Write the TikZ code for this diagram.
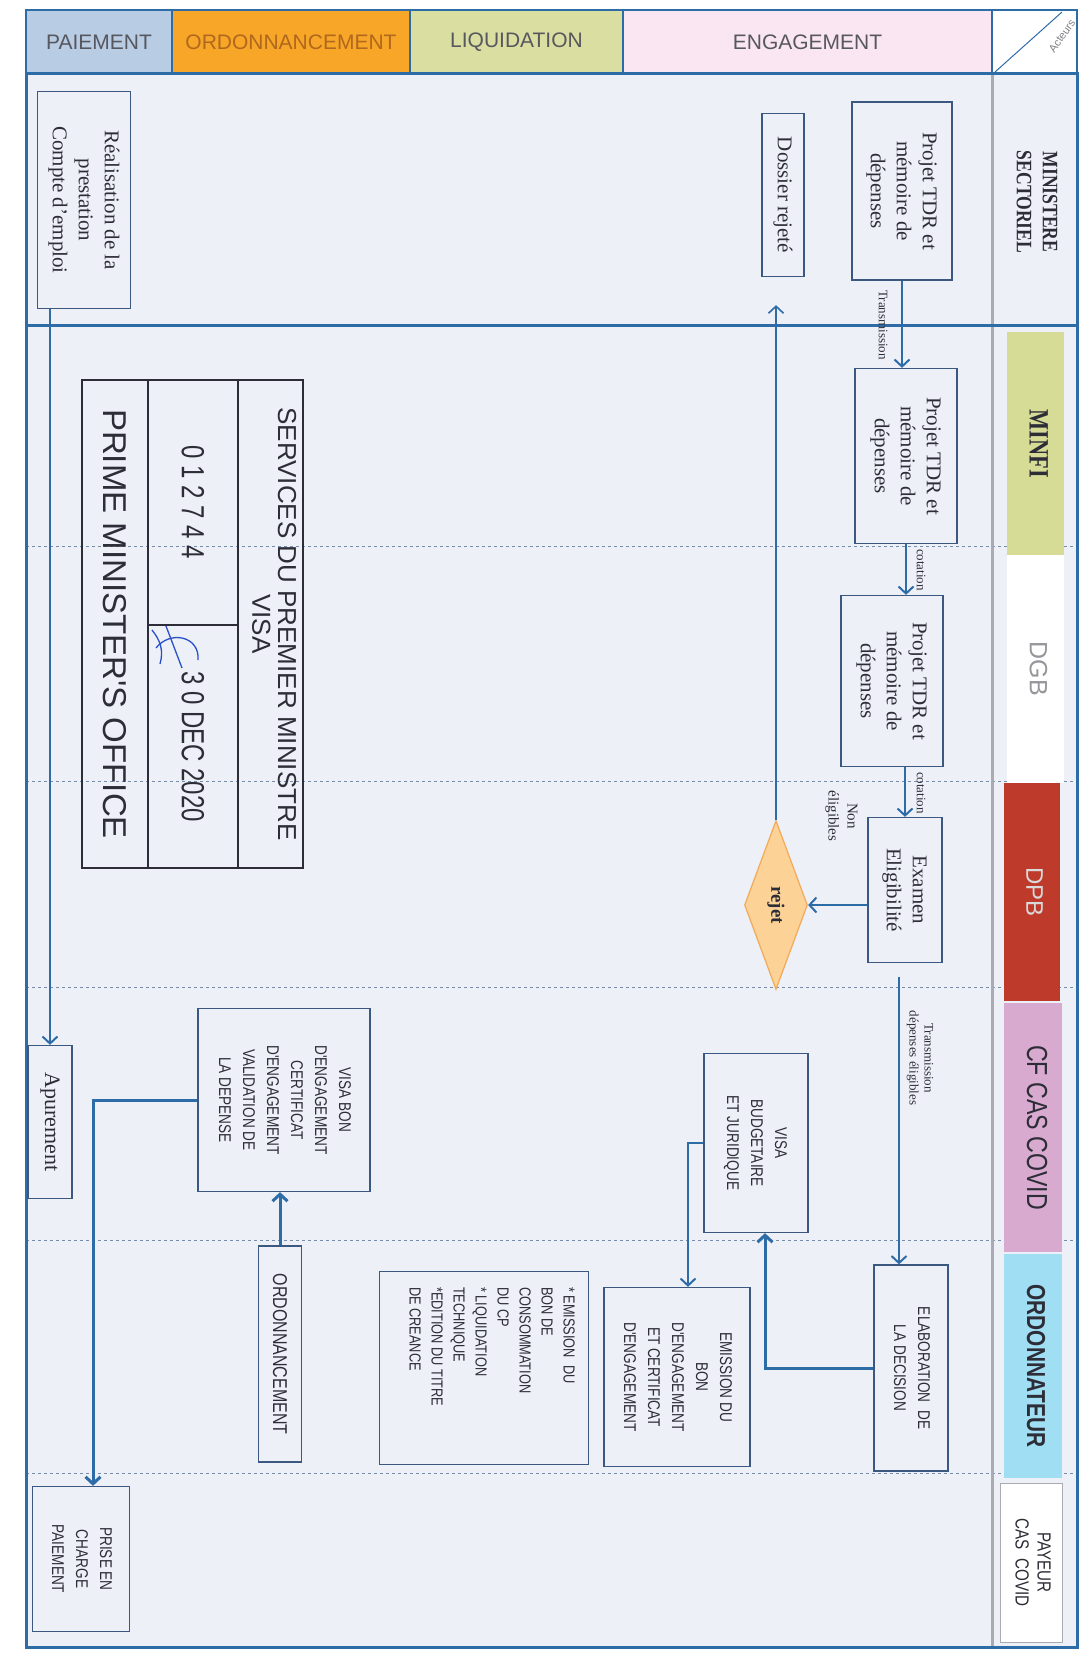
\documentclass[tikz,border=0pt]{standalone}
\usepackage{fontspec}
\setmainfont{Liberation Serif}
\newfontfamily\policesans{Liberation Sans}
\newfontfamily\etroit[FakeStretch=0.8]{Liberation Sans}
\newfontfamily\etroitserif[FakeStretch=0.8]{Liberation Serif}
\newfontfamily\chiffres[FakeStretch=0.75]{Liberation Sans}
\usepackage{xcolor}
\usepackage{tikz}
\usetikzlibrary{arrows.meta, shapes.geometric, positioning}

\definecolor{trait}{RGB}{46,108,168}
\definecolor{cadre}{RGB}{58,88,128}
\definecolor{fond}{RGB}{238,240,248}
\definecolor{encre}{RGB}{45,45,55}
\definecolor{paiecol}{RGB}{184,204,228}
\definecolor{ordocol}{RGB}{247,166,40}
\definecolor{ordotexte}{RGB}{176,104,30}
\definecolor{liqcol}{RGB}{218,222,160}
\definecolor{engcol}{RGB}{250,230,242}
\definecolor{minficol}{RGB}{214,220,150}
\definecolor{dpbcol}{RGB}{190,58,42}
\definecolor{cfcol}{RGB}{216,170,208}
\definecolor{ordonncol}{RGB}{160,222,244}
\definecolor{losfond}{RGB}{252,210,150}
\definecolor{losbord}{RGB}{240,170,90}
\definecolor{griscol}{RGB}{170,170,178}
\definecolor{pointcol}{RGB}{120,140,172}
\definecolor{signcol}{RGB}{40,80,200}

\newcommand{\vtexte}[1]{\rotatebox{-90}{\begin{tabular}{@{}c@{}}#1\end{tabular}}}
\newcommand{\vgauche}[1]{\rotatebox{-90}{\begin{tabular}{@{}l@{}}#1\end{tabular}}}

\begin{document}
\begin{tikzpicture}[x=1pt, y=-1pt, >={Straight Barb[length=7pt,width=15pt]},
    boite/.style={draw=cadre, line width=1.3pt, fill=fond, inner sep=0pt, text=encre},
    taille/.style 2 args={minimum width=#1pt, minimum height=#2pt},
    serif/.style={font=\fontsize{21}{26}\selectfont},
    majus/.style={font=\etroit\fontsize{17}{24}\selectfont},
    fleche/.style={->, draw=trait, line width=2pt},
    grossefleche/.style={fleche, line width=3pt},
    etiquette/.style={font=\fontsize{13}{15}\selectfont, text=encre, inner sep=0pt},
    entete/.style={draw=trait, line width=1.6pt, inner sep=0pt, font=\policesans\fontsize{21}{24}\selectfont},
    acteur/.style={inner sep=0pt, text=encre},
    tampon/.style={draw=encre, line width=2.4pt, inner sep=0pt, text=encre, font=\policesans},
    pointille/.style={draw=pointcol, dashed, line width=1pt}]

    % Fond de la page
    \useasboundingbox (0,0) rectangle (1080,1656);
    \fill[white] (0,0) rectangle (1080,1656);
    \fill[fond] (26,74) rectangle (1077,1647);

    % En-tête des phases
    \node[entete, fill=paiecol, taille={146}{64}, text=encre!80] (hPaie) at (99,42) {PAIEMENT};
    \node[entete, fill=ordocol, taille={238}{64}, text=ordotexte] (hOrdo) at (291,42) {ORDONNANCEMENT};
    \node[entete, fill=liqcol, taille={213}{64}, text=encre!80] (hLiq) at (516.5,42) {LIQUIDATION};
    \node[entete, fill=engcol, taille={369}{64}, text=encre!80] (hEng) at (807.5,42) {ENGAGEMENT};
    \draw[trait, line width=1.6pt, fill=white] (992,10) rectangle (1077,74);
    \draw[trait, line width=1pt] (995,72) -- (1062,12);
    \node[font=\policesans\fontsize{11}{13}\selectfont, text=encre!60, rotate=55] (tAct) at (1062,36) {Acteurs};

    % Couloirs
    \draw[pointille] (26,546) -- (1077,546) (26,781) -- (1077,781) (26,987) -- (1077,987)
        (26,1240) -- (1077,1240) (26,1473) -- (1077,1473);
    \draw[griscol, line width=3pt] (992,74) -- (992,1647);
    \draw[trait, line width=3pt] (26,325) -- (1077,325);
    \draw[trait, line width=3pt] (26,74) rectangle (1077,1647);

    % Acteurs
    \node[acteur, taille={57}{246}, font=\etroitserif\bfseries\fontsize{22}{26}\selectfont] (aMin) at (1035,202)
        {\vtexte{MINISTERE\\SECTORIEL}};
    \node[acteur, fill=minficol, taille={57}{223}, font=\etroitserif\bfseries\fontsize{28}{30}\selectfont] (aMinfi)
        at (1035.5,443.5) {\vtexte{MINFI}};
    \node[acteur, fill=white, taille={57}{228}, text=encre!50, font=\policesans\fontsize{25}{28}\selectfont] (aDgb)
        at (1035.5,669) {\vtexte{DGB}};
    \node[acteur, fill=dpbcol, taille={56}{218}, text=white!85!black, font=\policesans\fontsize{24}{28}\selectfont]
        (aDpb) at (1032,892) {\vtexte{DPB}};
    \node[acteur, fill=cfcol, taille={58}{249}, font=\etroit\fontsize{29}{30}\selectfont] (aCf) at (1033,1127.5)
        {\vtexte{CF CAS COVID}};
    \node[acteur, fill=ordonncol, taille={58}{224}, font=\etroit\bfseries\fontsize{26}{30}\selectfont] (aOrdo)
        at (1033,1366) {\vtexte{ORDONNATEUR}};
    \node[acteur, fill=white, draw=griscol, line width=1pt, taille={62}{159}, font=\etroit\fontsize{19}{22}\selectfont]
        (aPay) at (1031,1562.5) {\vtexte{PAYEUR\\CAS\ \ COVID}};

    % Cachet
    \node[tampon, taille={65}{488}, font=\policesans\fontsize{26}{25}\selectfont] (tHaut) at (270.5,624)
        {\vtexte{SERVICES DU PREMIER MINISTRE\\VISA}};
    \node[tampon, taille={90}{245}, font=\chiffres\fontsize{32}{34}\selectfont] (tNum) at (193,502.5)
        {\rotatebox{-90}{0 1 2 7 4 4}};
    \node[tampon, taille={90}{243}, font=\chiffres\fontsize{32}{34}\selectfont] (tDate) at (193,746.5)
        {\rotatebox{-90}{3 0 DEC 2020}};
    \node[tampon, taille={66}{488}, font=\policesans\fontsize{33}{36}\selectfont] (tBas) at (115,624)
        {\rotatebox{-90}{PRIME MINISTER'S OFFICE}};
    \draw[signcol, line width=1.3pt] (156,648) .. controls (170,630) and (200,636) .. (198,660);
    \draw[signcol, line width=1.3pt] (166,626) -- (182,668);
    \draw[signcol, line width=1.3pt] (152,630) .. controls (160,640) and (164,650) .. (160,664);

    % Étiquettes des flux
    \node[etiquette] (lTrans) at (883,325) {\rotatebox{-90}{Transmission}};
    \node[etiquette] (lCot1) at (921,570) {\rotatebox{-90}{cotation}};
    \node[etiquette] (lCot2) at (921,793) {\rotatebox{-90}{cotation}};
    \node[etiquette] (lElig) at (920,1058) {\vtexte{Transmission\\dépenses éligibles}};
    \node[etiquette, font=\fontsize{15}{19}\selectfont] (lNon) at (842,816) {\vtexte{Non\\éligibles}};

    % Engagement
    \node[boite, serif, taille={100}{178}] (p1) at (902,191) {\vtexte{Projet TDR et\\mémoire de\\dépenses}};
    \node[boite, serif, taille={42}{163}] (rej) at (783,195) {\vtexte{Dossier rejeté}};
    \node[boite, serif, taille={102}{175}] (p2) at (906,456) {\vtexte{Projet TDR et\\mémoire de\\dépenses}};
    \node[boite, serif, taille={102}{171}] (p3) at (892,681) {\vtexte{Projet TDR et\\mémoire de\\dépenses}};
    \node[boite, serif, taille={74}{145}] (exam) at (905,890) {\vtexte{Examen\\Eligibilité}};
    \node[diamond, aspect=0.37, draw=losbord, line width=1.2pt, fill=losfond, inner sep=0pt,
        minimum width=63pt, minimum height=169pt, text=encre] (rejet) at (776,905)
        {\rotatebox{-90}{\bfseries\fontsize{19}{22}\selectfont rejet}};
    \node[boite, majus, taille={74}{206}] (elab) at (911,1368) {\vtexte{ELABORATION\ \ DE\\LA DECISION}};
    \node[boite, majus, taille={104}{179}] (visab) at (756,1143) {\vtexte{VISA\\BUDGETAIRE\\ET JURIDIQUE}};
    \node[boite, majus, taille={146}{179}] (emis) at (677,1377)
        {\vtexte{EMISSION DU\\BON\\D'ENGAGEMENT\\ET CERTIFICAT\\D'ENGAGEMENT}};

    % Liquidation
    \node[boite, taille={209}{193}] (liste) at (484,1368) {};
    \node[anchor=north east, inner sep=0pt, text=encre, font=\etroit\fontsize{16}{22}\selectfont] (listeTxt)
        at ([xshift=-10pt,yshift=-16pt]liste.north east)
        {\vgauche{{*} EMISSION\ \ DU\\BON DE\\CONSOMMATION\\DU CP\\{*} LIQUIDATION\\TECHNIQUE\\{*}EDITION DU TITRE\\DE CREANCE}};

    % Ordonnancement
    \node[boite, majus, taille={172}{183}] (visabon) at (284,1100)
        {\vtexte{VISA BON\\D'ENGAGEMENT\\CERTIFICAT\\D'ENGAGEMENT\\VALIDATION DE\\LA DEPENSE}};
    \node[boite, font=\etroit\fontsize{20}{24}\selectfont, taille={43}{216}] (ordo) at (280,1354)
        {\rotatebox{-90}{ORDONNANCEMENT}};

    % Paiement
    \node[boite, serif, taille={93}{217}] (real) at (84,200) {\vtexte{Réalisation de la\\prestation\\Compte d'emploi}};
    \node[boite, font=\fontsize{22}{26}\selectfont, taille={44}{153}] (apur) at (50,1122) {\rotatebox{-90}{Apurement}};
    \node[boite, majus, taille={97}{145}] (prise) at (81,1559) {\vtexte{PRISE EN\\CHARGE\\PAIEMENT}};

    % Flux
    \draw[fleche] (p1.south) -- (p1.south |- p2.north);
    \draw[fleche] (p2.south) -- (p2.south |- p3.north);
    \draw[fleche] (exam.north |- p3.south) -- (exam.north);
    \draw[fleche] (exam.west |- rejet.east) -- (rejet.east);
    \coordinate (rH) at ([yshift=-28pt]rej.south);
    \draw[fleche, line width=1.6pt] (rejet.north) -- (rejet.north |- rH);
    \coordinate (eDep) at ([xshift=-6pt,yshift=-14pt]exam.south);
    \draw[fleche] (eDep) -- (eDep |- elab.north);
    \coordinate (vB) at ([xshift=9pt]visab.south);
    \draw[grossefleche] (elab.west) -| (vB);
    \coordinate (eH) at ([xshift=11pt]emis.north);
    \draw[fleche] (visab.west) -| (eH);
    \draw[grossefleche] (ordo.north) -- (ordo.north |- visabon.south);
    \coordinate (pH) at ([xshift=12pt]prise.north);
    \draw[grossefleche] (visabon.west) -| (pH);
    \draw[fleche] (apur.north |- real.south) -- (apur.north);

\end{tikzpicture}
\end{document}
